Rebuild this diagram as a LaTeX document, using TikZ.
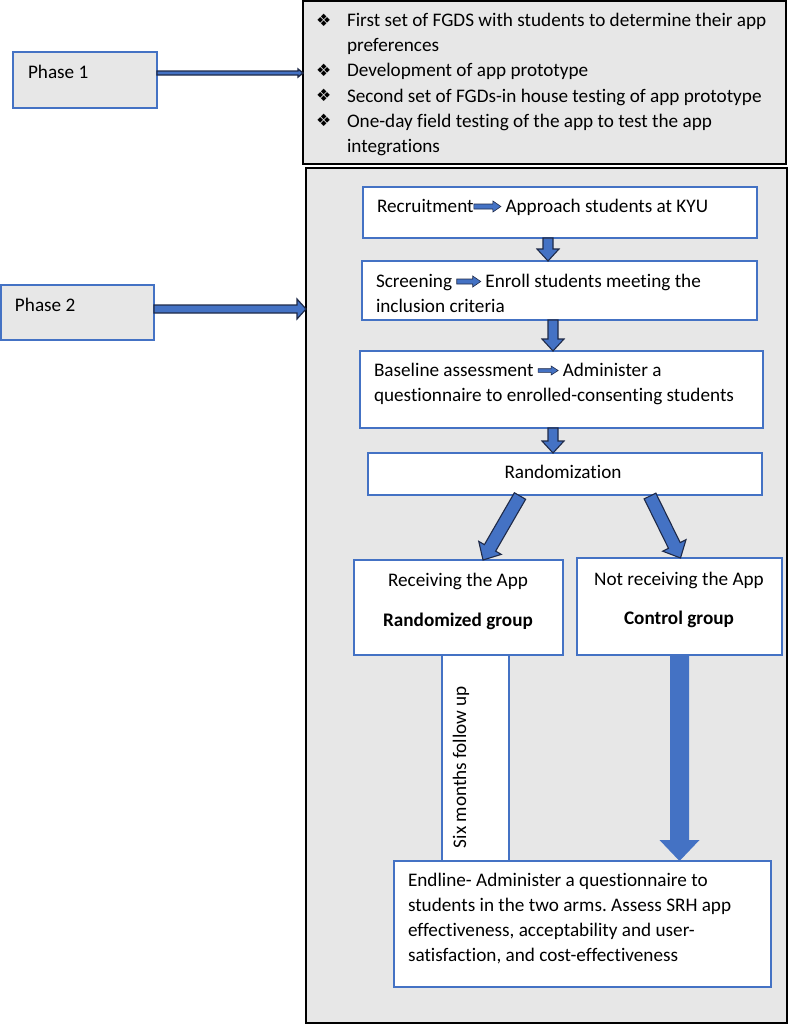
\documentclass[tikz,border=0pt]{standalone}
\usepackage{fontspec}
\setmainfont{Carlito}[Ligatures={NoCommon}]
\newfontfamily\djv{DejaVu Sans}
\usetikzlibrary{calc}
\definecolor{obl}{HTML}{4472C4}
\definecolor{gbox}{HTML}{E7E7E7}
\definecolor{aout}{HTML}{1F2A48}
\frenchspacing

% block arrow: style, from, to, shaft half width, head half width, head length
\newcommand\blockarrow[6]{%
  \coordinate (ba-a) at (#2);
  \coordinate (ba-b) at (#3);
  \coordinate (ba-c) at ($(ba-b)!#6!(ba-a)$);
  \filldraw[#1] ($(ba-a)!#4!90:(ba-b)$) -- ($(ba-c)!#4!90:(ba-b)$) -- ($(ba-c)!#5!90:(ba-b)$) -- (ba-b)
     -- ($(ba-c)!#5!-90:(ba-b)$) -- ($(ba-c)!#4!-90:(ba-b)$) -- ($(ba-a)!#4!-90:(ba-b)$) -- cycle;}

% inline arrow: length, shaft half height, head half height, head length (pt)
\newcommand\ia[4]{\tikz[baseline={(0pt,-5.5pt)}]{\filldraw[fill=obl,draw=aout,line width=0.6pt]
  (0pt,-#2pt) -- ({#1pt-#4pt},-#2pt) -- ({#1pt-#4pt},-#3pt) -- (#1pt,0pt) -- ({#1pt-#4pt},#3pt)
  -- ({#1pt-#4pt},#2pt) -- (0pt,#2pt) -- cycle;}}
\newcommand\bul{\makebox[31pt][l]{\raisebox{0.5pt}{\djv\fontsize{17}{17}\selectfont ❖}}}

\begin{document}
\begin{tikzpicture}[x=1pt,y=-1pt,
  graybox/.style={draw=black,line width=1.4pt,fill=gbox,inner sep=0pt,outer sep=0pt,anchor=north west},
  phasebox/.style={draw=obl,line width=1.3pt,fill=gbox,inner sep=0pt,outer sep=0pt,anchor=north west},
  bluebox/.style={draw=obl,line width=1.4pt,fill=white,inner sep=0pt,outer sep=0pt,anchor=north west},
  txt/.style={inner sep=0pt,outer sep=0pt,font=\fontsize{19.2}{25.2}\selectfont},
  arr/.style={fill=obl,draw=aout,line width=1.1pt,line join=miter},
  bigarr/.style={fill=obl,draw=none}]
\useasboundingbox (0,0) rectangle (789,1026);

% Phase 1
\node[phasebox,minimum width=144pt,minimum height=56pt] (p1) at (13,52) {};
\node[txt,anchor=base west] (p1t) at (28,78) {Phase 1};
\node[graybox,minimum width=483pt,minimum height=163pt] (top) at (303,1) {};
\node[txt,anchor=base west] (list) at (316,26.5) {\vtop{%
  \hbox{\bul First set of FGDS with students to determine their app}
  \hbox{\hspace{31pt}preferences}
  \hbox{\bul Development of app prototype}
  \hbox{\bul Second set of FGDs-in house testing of app prototype}
  \hbox{\bul One-day field testing of the app to test the app}
  \hbox{\hspace{31pt}integrations}}};

% Phase 2
\node[graybox,minimum width=481pt,minimum height=855pt] (big) at (306,168) {};
\node[phasebox,minimum width=153pt,minimum height=55pt] (p2) at (1,285) {};
\node[txt,anchor=base west] (p2t) at (15,311) {Phase 2};

\coordinate (p1a) at ([yshift=7pt]p1.east);
\blockarrow{arr,line width=1.4pt}{p1a}{p1a -| top.west}{2pt}{4pt}{5pt}
\coordinate (p2a) at ([yshift=3.5pt]p2.east);
\blockarrow{arr,line width=1.2pt}{p2a}{p2a -| big.west}{4pt}{10pt}{9pt}

% flow boxes
\node[bluebox,minimum width=394pt,minimum height=51pt] (rec) at (363,187) {};
\node[txt,anchor=base west] (rect) at (377,212) {Recruitment\ia{27}{2.5}{5.5}{8} Approach students at KYU};

\node[bluebox,minimum width=395pt,minimum height=59pt] (scr) at (362,261) {};
\node[txt,anchor=base west] (scrt) at (376,287) {\vtop{%
  \hbox{Screening \ia{24}{2.5}{5.5}{8} Enroll students meeting the}
  \hbox{inclusion criteria}}};

\node[bluebox,minimum width=403pt,minimum height=77pt] (base) at (360,351) {};
\node[txt,anchor=base west] (baset) at (374,376) {\vtop{%
  \hbox{Baseline assessment \ia{20}{1.8}{4.5}{7} Administer a}
  \hbox{questionnaire to enrolled-consenting students}}};

\node[bluebox,minimum width=394pt,minimum height=42pt] (rand) at (368,453) {};
\node[txt,anchor=base] (randt) at (563,478) {Randomization};

\node[bluebox,minimum width=67pt,minimum height=206pt] (six) at (442,655) {};
\node[txt,rotate=90,anchor=center] (sixt) at (461,767) {Six months follow up};

\node[bluebox,minimum width=209pt,minimum height=95pt] (recv) at (354,560) {};
\node[txt,anchor=base] (recvt) at (458,586) {Receiving the App};
\node[txt,anchor=base,font=\fontsize{19.2}{25.2}\selectfont\bfseries] (recvb) at (458,626) {Randomized group};

\node[bluebox,minimum width=205pt,minimum height=97pt] (notr) at (577,558) {};
\node[txt,anchor=base] (notrt) at (679,585) {Not receiving the App};
\node[txt,anchor=base,font=\fontsize{19.2}{25.2}\selectfont\bfseries] (notrb) at (679,624) {Control group};

\node[bluebox,minimum width=377pt,minimum height=126pt] (endl) at (394,861) {};
\node[txt,anchor=base west] (endlt) at (408,886.5) {\vtop{\baselineskip=25pt
  \hbox{Endline- Administer a questionnaire to}
  \hbox{students in the two arms. Assess SRH app}
  \hbox{effectiveness, acceptability and user-}
  \hbox{satisfaction, and cost-effectiveness}}};

% connectors
\blockarrow{arr}{[xshift=-12pt]rec.south}{[xshift=-12pt]rec.south |- scr.north}{5pt}{11pt}{12pt}
\blockarrow{arr}{[xshift=-6.5pt]scr.south}{[xshift=-6.5pt]scr.south |- base.north}{5pt}{11pt}{12pt}
\blockarrow{arr}{[xshift=-8.5pt]base.south}{[xshift=-8.5pt]base.south |- rand.north}{5pt}{11pt}{12pt}
\blockarrow{arr}{[xshift=-45pt,yshift=-1pt]rand.south}{[xshift=24.5pt]recv.north}{6.5pt}{13pt}{14pt}
\blockarrow{arr}{[xshift=85pt,yshift=-1pt]rand.south}{[xshift=1pt]notr.north}{6.5pt}{13pt}{14pt}
\blockarrow{bigarr}{notr.south}{notr.south |- endl.north}{9.5pt}{20pt}{21pt}
\end{tikzpicture}
\end{document}
